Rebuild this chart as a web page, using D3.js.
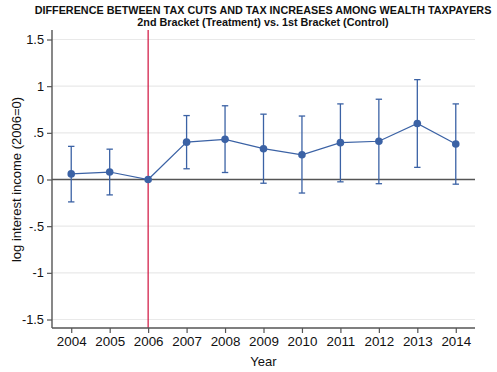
<!DOCTYPE html>
<html>
<head>
<meta charset="utf-8">
<script src="https://cdn.jsdelivr.net/npm/d3@7/dist/d3.min.js"></script>
<style>
  body { margin: 0; background: #fff; }
  svg { font-family: "Liberation Sans", Arial, Helvetica, sans-serif; }
</style>
</head>
<body>
<div id="chart"></div>
<script>
const years = [2004, 2005, 2006, 2007, 2008, 2009, 2010, 2011, 2012, 2013, 2014];
const estimates = [0.06, 0.08, 0, 0.40, 0.43, 0.33, 0.265, 0.395, 0.41, 0.60, 0.38];
const ciUpper = [0.355, 0.325, null, 0.685, 0.79, 0.70, 0.68, 0.81, 0.86, 1.07, 0.81];
const ciLower = [-0.24, -0.165, null, 0.115, 0.075, -0.04, -0.145, -0.025, -0.045, 0.13, -0.05];
const yTicks = [-1.5, -1, -0.5, 0, 0.5, 1, 1.5];
const yTickLabels = ["-1.5", "-1", "-.5", "0", ".5", "1", "1.5"];
const treatYear = 2006;

const width = 497, height = 372;
const margin = { top: 30, right: 22, bottom: 44, left: 52 };

const svg = d3.select("#chart").append("svg")
  .attr("width", width)
  .attr("height", height);

const data = years.map((y, i) => ({ year: y, est: estimates[i], hi: ciUpper[i], lo: ciLower[i] }));

const x = d3.scaleLinear()
  .domain([2003.5, 2014.5])
  .range([margin.left, width - margin.right]);
const y = d3.scaleLinear()
  .domain([-1.5, 1.5])
  .range([319.5, 39.5]);

const plotBottom = height - margin.bottom;
const blue = "#3b62a5";

// gridlines
svg.append("g")
  .selectAll("line")
  .data(yTicks)
  .join("line")
  .attr("x1", margin.left)
  .attr("x2", width - margin.right)
  .attr("y1", d => y(d))
  .attr("y2", d => y(d))
  .attr("stroke", "#e9e9e9")
  .attr("stroke-width", 1.2);

// zero line
svg.append("line")
  .attr("x1", margin.left)
  .attr("x2", width - margin.right)
  .attr("y1", y(0))
  .attr("y2", y(0))
  .attr("stroke", "#555")
  .attr("stroke-width", 1.4);

// treatment year
svg.append("line")
  .attr("x1", x(treatYear))
  .attr("x2", x(treatYear))
  .attr("y1", margin.top)
  .attr("y2", plotBottom)
  .attr("stroke", "#d0103c")
  .attr("stroke-width", 1.2);

// axes
const axisY = d3.axisLeft(y)
  .tickValues(yTicks)
  .tickFormat((d, i) => yTickLabels[i])
  .tickSize(5)
  .tickPadding(3);
const gy = svg.append("g")
  .attr("transform", `translate(${margin.left},0)`)
  .call(axisY);
gy.select(".domain").attr("d", `M0,${margin.top}V${plotBottom}`);

const axisX = d3.axisBottom(x)
  .tickValues(years)
  .tickFormat(d3.format("d"))
  .tickSize(5)
  .tickPadding(3);
const gx = svg.append("g")
  .attr("transform", `translate(0,${plotBottom})`)
  .call(axisX);
gx.select(".domain").attr("d", `M${margin.left},0H${width - margin.right}`);

svg.selectAll(".domain").attr("stroke", "#555").attr("stroke-width", 1.4);
svg.selectAll(".tick line").attr("stroke", "#555").attr("stroke-width", 1.2);
svg.selectAll(".tick text")
  .attr("font-size", 12.8)
  .attr("fill", "#111")
  .attr("font-family", "Liberation Sans, Arial, sans-serif");
gx.selectAll(".tick text").attr("font-size", 13.4);

// error bars
const ci = data.filter(d => d.hi !== null);
const eb = svg.append("g")
  .attr("stroke", blue)
  .attr("stroke-width", 1.3)
  .attr("fill", "none");
eb.selectAll(".whisker")
  .data(ci)
  .join("line")
  .attr("class", "whisker")
  .attr("x1", d => x(d.year))
  .attr("x2", d => x(d.year))
  .attr("y1", d => y(d.hi))
  .attr("y2", d => y(d.lo));
eb.selectAll(".capHi")
  .data(ci)
  .join("line")
  .attr("class", "capHi")
  .attr("x1", d => x(d.year) - 3.2)
  .attr("x2", d => x(d.year) + 3.2)
  .attr("y1", d => y(d.hi))
  .attr("y2", d => y(d.hi));
eb.selectAll(".capLo")
  .data(ci)
  .join("line")
  .attr("class", "capLo")
  .attr("x1", d => x(d.year) - 3.2)
  .attr("x2", d => x(d.year) + 3.2)
  .attr("y1", d => y(d.lo))
  .attr("y2", d => y(d.lo));

// connecting line
const line = d3.line()
  .x(d => x(d.year))
  .y(d => y(d.est));
svg.append("path")
  .datum(data)
  .attr("fill", "none")
  .attr("stroke", blue)
  .attr("stroke-width", 1.2)
  .attr("d", line);

// points
svg.append("g")
  .selectAll("circle")
  .data(data)
  .join("circle")
  .attr("cx", d => x(d.year))
  .attr("cy", d => y(d.est))
  .attr("r", 3.8)
  .attr("fill", blue);

// titles
svg.append("text")
  .attr("x", 263)
  .attr("y", 14)
  .attr("text-anchor", "middle")
  .attr("font-size", 10.8)
  .attr("font-weight", "bold")
  .attr("fill", "#111")
  .text("DIFFERENCE BETWEEN TAX CUTS AND TAX INCREASES AMONG WEALTH TAXPAYERS");
svg.append("text")
  .attr("x", 263)
  .attr("y", 26)
  .attr("text-anchor", "middle")
  .attr("font-size", 10.8)
  .attr("font-weight", "bold")
  .attr("fill", "#111")
  .text("2nd Bracket (Treatment) vs. 1st Bracket (Control)");

// axis titles
svg.append("text")
  .attr("x", x(2009))
  .attr("y", 366)
  .attr("text-anchor", "middle")
  .attr("font-size", 13)
  .attr("fill", "#111")
  .text("Year");
svg.append("text")
  .attr("transform", `translate(21,${y(0)}) rotate(-90)`)
  .attr("text-anchor", "middle")
  .attr("font-size", 13)
  .attr("fill", "#111")
  .text("log interest income (2006=0)");
</script>
</body>
</html>
